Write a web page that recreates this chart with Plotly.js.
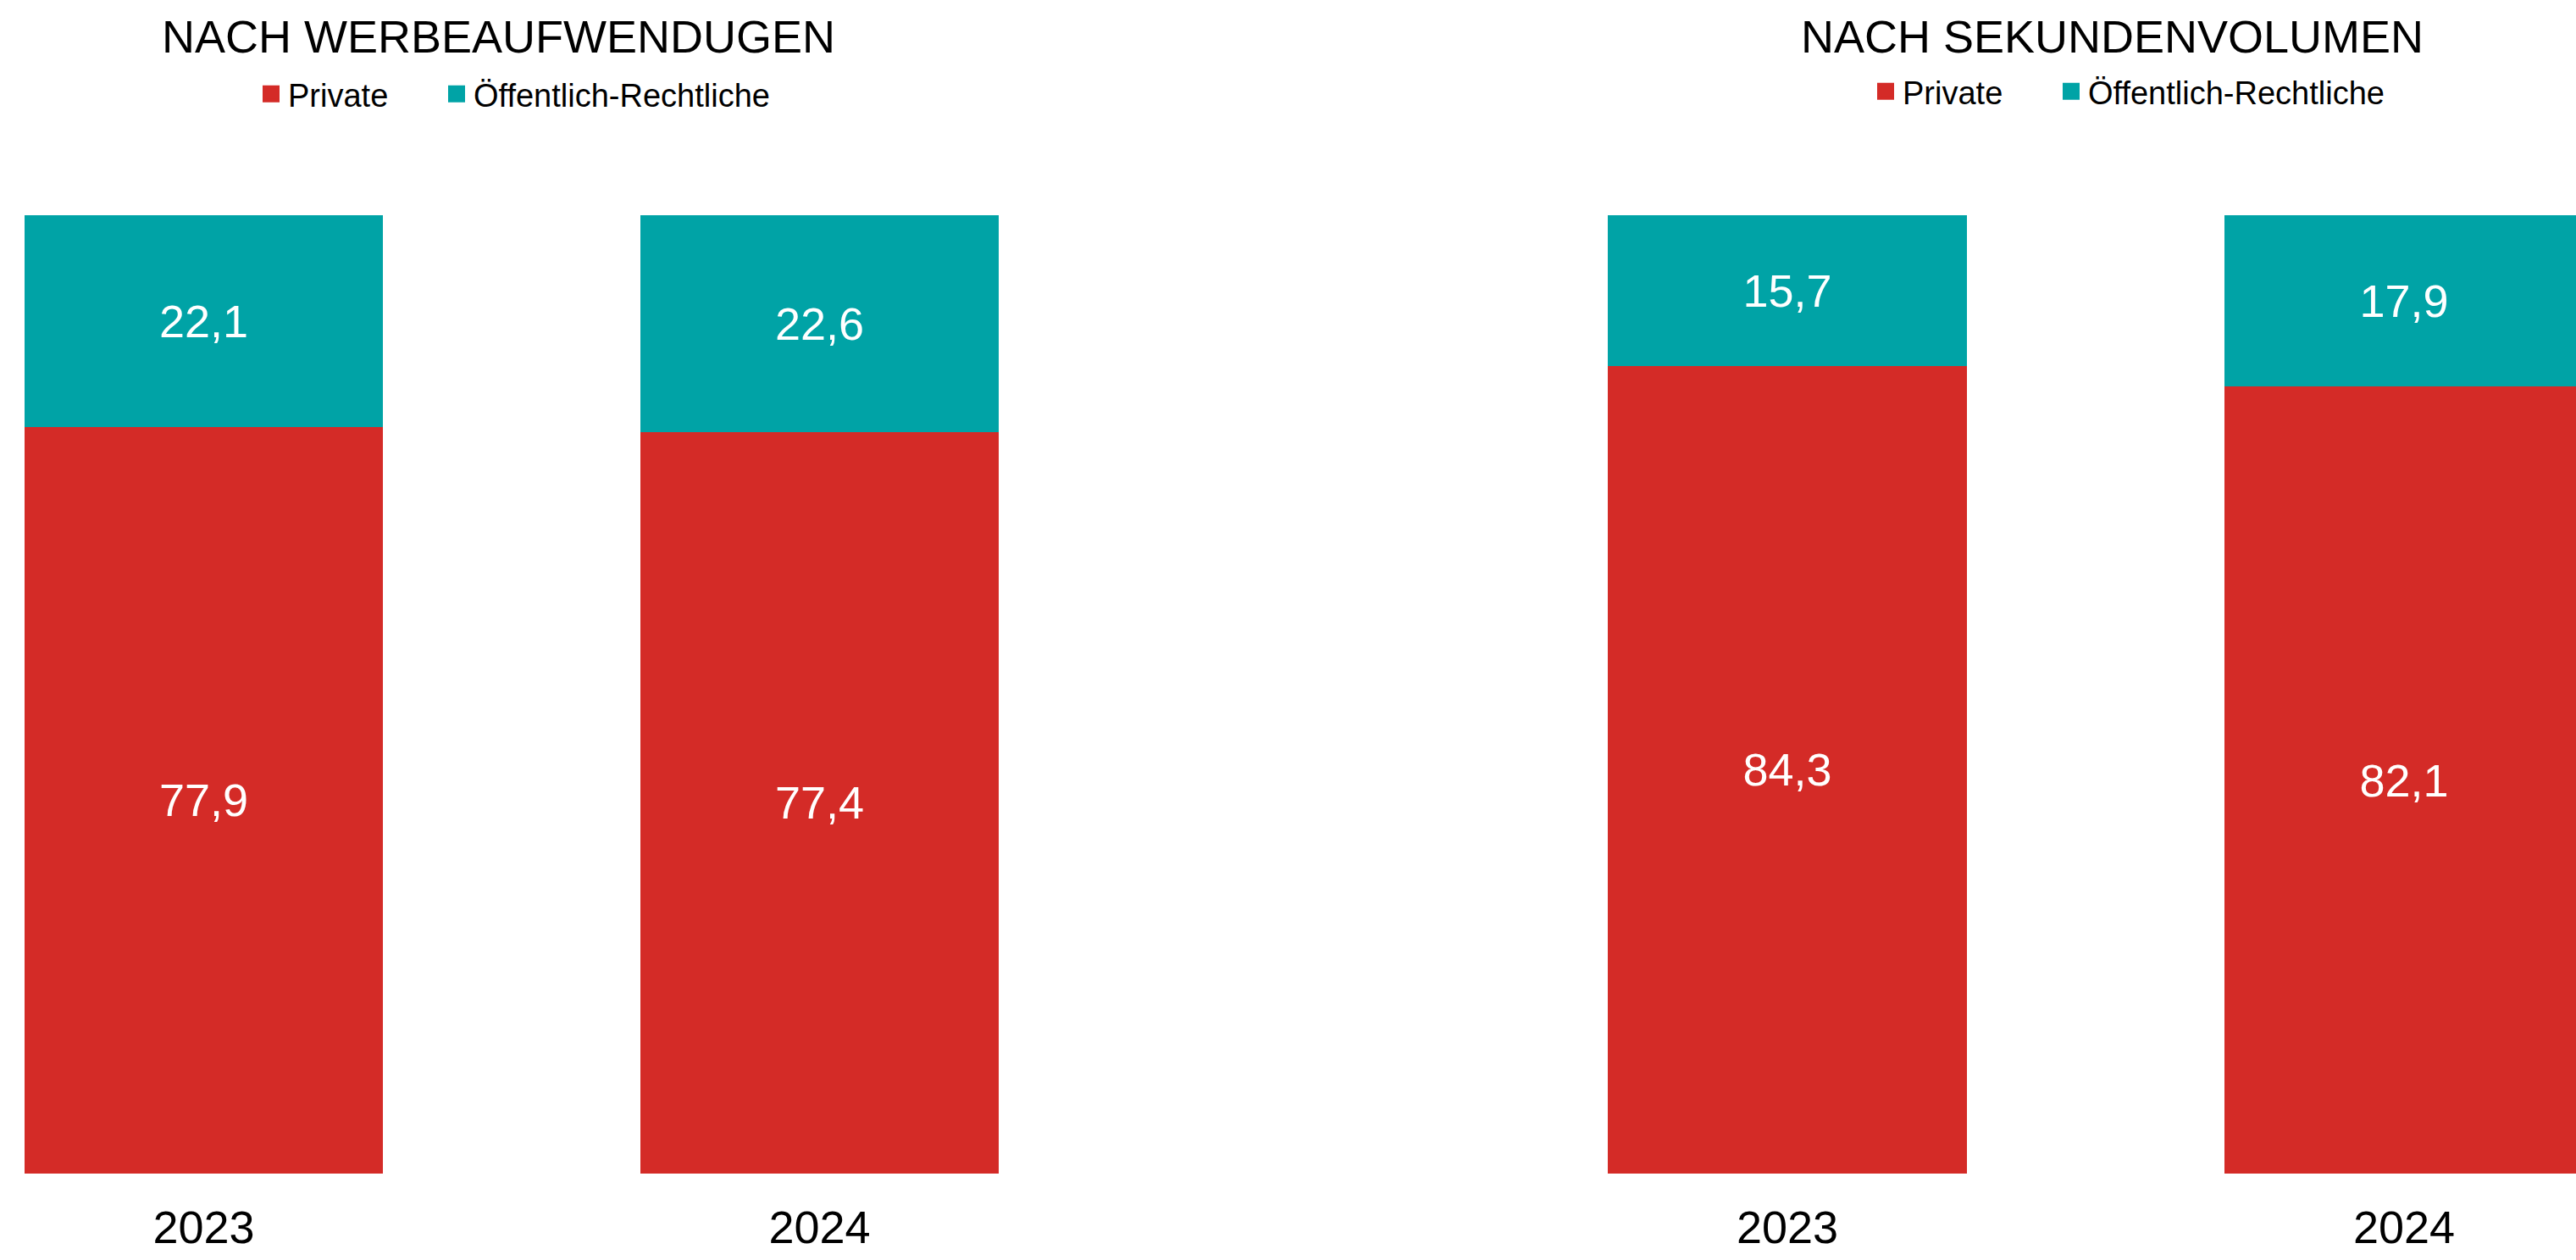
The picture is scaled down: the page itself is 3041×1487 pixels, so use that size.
<!DOCTYPE html>
<html>
<head>
<meta charset="utf-8">
<script src="https://cdn.plot.ly/plotly-3.0.1.min.js"></script>
<style>html,body{margin:0;padding:0;background:#fff;}#chart{width:3041px;height:1487px;}</style>
</head>
<body>
<div id="chart"></div>
<script>
const years = ['2023', '2024'];
const werbePrivate = [77.9, 77.4];
const werbeOeffentlich = [22.1, 22.6];
const sekundenPrivate = [84.3, 82.1];
const sekundenOeffentlich = [15.7, 17.9];
const seriesNames = ['Private', 'Öffentlich-Rechtliche'];
const panelTitles = ['NACH WERBEAUFWENDUGEN', 'NACH SEKUNDENVOLUMEN'];

const RED = '#D42B27';
const TEAL = '#00A3A6';
const FONT = '"Liberation Sans Narrow", "Arial Narrow", "Liberation Sans", Arial, sans-serif';

function barTrace(y, name, color, xa, ya) {
  return {
    type: 'bar', x: years, y: y, name: name,
    xaxis: xa, yaxis: ya,
    marker: {color: color, line: {width: 0}},
    texttemplate: '%{y:.1f}',
    textposition: 'inside',
    insidetextanchor: 'middle',
    constraintext: 'none',
    insidetextfont: {family: FONT, size: 54, color: '#ffffff'},
    showlegend: false,
    hoverinfo: 'skip'
  };
}
function legendTrace(name, color, xa, ya, legend, lw) {
  return {
    type: 'scatter', mode: 'markers', x: [null], y: [null], name: name,
    xaxis: xa, yaxis: ya, legend: legend, legendwidth: lw,
    marker: {symbol: 'square', size: 16, color: color, line: {width: 4, color: color}},
    showlegend: true, hoverinfo: 'skip'
  };
}

const data = [
  barTrace(werbePrivate, seriesNames[0], RED, 'x', 'y'),
  barTrace(werbeOeffentlich, seriesNames[1], TEAL, 'x', 'y'),
  barTrace(sekundenPrivate, seriesNames[0], RED, 'x2', 'y2'),
  barTrace(sekundenOeffentlich, seriesNames[1], TEAL, 'x2', 'y2'),
  legendTrace(seriesNames[0], RED, 'x', 'y', 'legend', 174),
  legendTrace(seriesNames[1], TEAL, 'x', 'y', 'legend', 360),
  legendTrace(seriesNames[0], RED, 'x2', 'y2', 'legend2', 174),
  legendTrace(seriesNames[1], TEAL, 'x2', 'y2', 'legend2', 360)
];

const W = 3041, H = 1487;
const xAxisCommon = {
  type: 'category', showgrid: false, zeroline: false, showline: false, ticks: '',
  tickfont: {family: FONT, size: 54, color: '#000'}, ticklabelstandoff: 27, fixedrange: true
};
const yAxisCommon = {
  range: [0, 100], showgrid: false, zeroline: false, showline: false, showticklabels: false,
  ticks: '', fixedrange: true, domain: [(H - 1385) / H, (H - 254) / H]
};
const legendCommon = {
  orientation: 'h', xanchor: 'left', yanchor: 'middle', traceorder: 'normal',
  font: {family: FONT, size: 38, color: '#000'}, bgcolor: 'rgba(0,0,0,0)', borderwidth: 0,
  itemclick: false, itemdoubleclick: false
};

const layout = {
  width: W, height: H,
  margin: {l: 0, r: 0, t: 0, b: 0, pad: 0},
  paper_bgcolor: '#fff', plot_bgcolor: '#fff',
  separators: ',.',
  barmode: 'stack', bargap: 0.418,
  showlegend: true,
  xaxis: Object.assign({}, xAxisCommon, {domain: [0, 1250 / W], range: [-240.5 / 727, (1250 - 240.5) / 727], anchor: 'y'}),
  yaxis: Object.assign({}, yAxisCommon, {anchor: 'x'}),
  xaxis2: Object.assign({}, xAxisCommon, {domain: [1700 / W, 1], range: [-410 / 728, 931 / 728], anchor: 'y2'}),
  yaxis2: Object.assign({}, yAxisCommon, {anchor: 'x2'}),
  legend: Object.assign({}, legendCommon, {x: 300 / W, y: 1 - 111 / H}),
  legend2: Object.assign({}, legendCommon, {x: 2206 / W, y: 1 - 108 / H}),
  annotations: [
    {text: panelTitles[0], xref: 'paper', yref: 'paper', x: 588 / W, y: 1 - 43 / H, xanchor: 'center', yanchor: 'middle', showarrow: false, font: {family: FONT, size: 54, color: '#000'}},
    {text: panelTitles[1], xref: 'paper', yref: 'paper', x: 2493 / W, y: 1 - 43 / H, xanchor: 'center', yanchor: 'middle', showarrow: false, font: {family: FONT, size: 54, color: '#000'}}
  ]
};

Plotly.newPlot('chart', data, layout, {displayModeBar: false, staticPlot: true});
</script>
</body>
</html>
